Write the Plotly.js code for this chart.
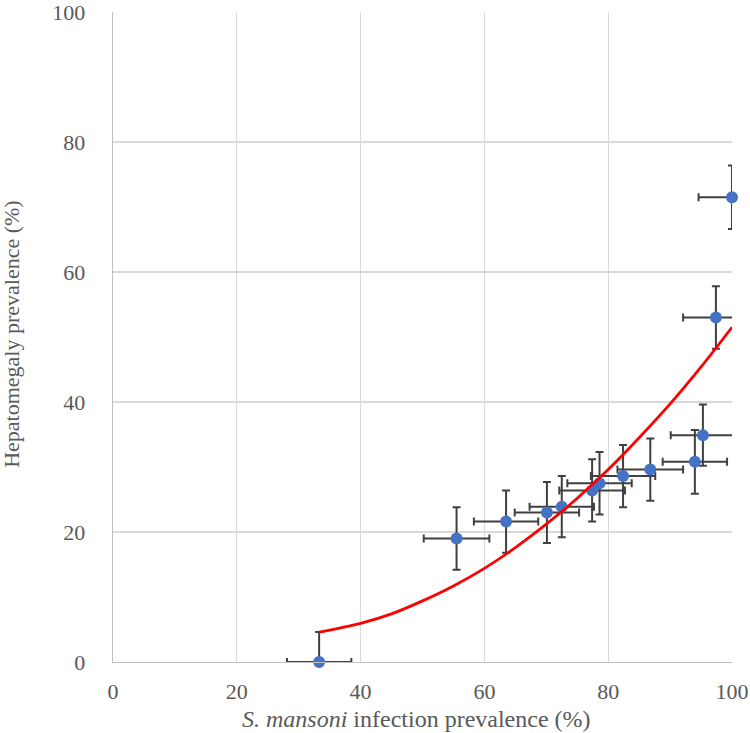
<!DOCTYPE html>
<html>
<head>
<meta charset="utf-8">
<script src="https://cdn.plot.ly/plotly-3.0.1.min.js"></script>
<style>html,body{margin:0;padding:0;background:#fff;}#chart{width:750px;height:733px;}</style>
</head>
<body>
<div id="chart"></div>
<script>
// S. mansoni infection prevalence (%) per community
const infectionPrev = [33.3, 55.5, 63.5, 70.1, 72.5, 77.4, 78.6, 82.4, 86.8, 94.0, 95.3, 97.4, 100.0];
// Hepatomegaly prevalence (%)
const hepatoPrev    = [0.0, 19.0, 21.6, 23.0, 23.9, 26.4, 27.5, 28.6, 29.6, 30.8, 34.9, 53.0, 71.5];
// 95% CI half-widths
const infectionErr  = [5.2, 5.3, 5.2, 5.2, 5.2, 5.3, 5.2, 5.2, 5.3, 5.2, 5.2, 5.3, 5.4];
const hepatoErr     = [4.6, 4.8, 4.8, 4.7, 4.7, 4.8, 4.8, 4.8, 4.8, 4.9, 4.7, 4.8, 4.9];
// Trendline (polynomial)
const trendX = [33.3, 40, 45, 50, 55, 60, 65, 70, 75, 80, 85, 90, 95, 100];
const trendY = [4.6, 5.95, 7.4, 9.4, 11.7, 14.4, 17.6, 21.2, 25.2, 29.6, 34.5, 39.7, 45.4, 51.5];
const tickVals = [0, 20, 40, 60, 80, 100];
const tickText = ['0', '20', '40', '60', '80', '100'];
const xTitle = '<i>S. mansoni</i> infection prevalence (%)';
const yTitle = 'Hepatomegaly prevalence (%)';

const errStyle = {type: 'data', symmetric: true, color: '#404040', thickness: 2, width: 4};

const data = [
  {
    x: infectionPrev, y: hepatoPrev, type: 'scatter', mode: 'markers',
    marker: {size: 12, color: 'rgba(0,0,0,0)'},
    error_x: Object.assign({array: infectionErr}, errStyle),
    error_y: Object.assign({array: hepatoErr}, errStyle),
    cliponaxis: true, hoverinfo: 'skip', showlegend: false
  },
  {
    x: infectionPrev, y: hepatoPrev, type: 'scatter', mode: 'markers',
    marker: {size: 12, color: '#4472C4'},
    cliponaxis: false, showlegend: false
  },
  {
    x: trendX, y: trendY, type: 'scatter', mode: 'lines',
    line: {color: '#FF0000', width: 2.8, shape: 'spline'},
    showlegend: false
  }
];

const fam = 'Liberation Serif, Times New Roman, serif';
const tickFont = {family: fam, size: 22, color: '#595959'};

const layout = {
  width: 750, height: 733,
  margin: {l: 113, r: 18, t: 12, b: 71},
  paper_bgcolor: '#ffffff', plot_bgcolor: '#ffffff',
  showlegend: false,
  font: {family: fam},
  xaxis: {
    range: [0, 100], tickvals: tickVals, ticktext: tickText,
    showgrid: true, gridcolor: '#d9d9d9', gridwidth: 1.3,
    zeroline: false, showline: true, linecolor: '#bfbfbf', linewidth: 1.3,
    ticks: '', ticklabelstandoff: 9, ticklabeloverflow: 'allow',
    tickfont: tickFont, automargin: false
  },
  yaxis: {
    range: [0, 100], tickvals: tickVals, ticktext: tickText,
    showgrid: true, gridcolor: '#d9d9d9', gridwidth: 1.3,
    zeroline: false, showline: true, linecolor: '#bfbfbf', linewidth: 1.3,
    ticks: '', ticklabelstandoff: 22, ticklabeloverflow: 'allow',
    tickfont: tickFont, automargin: false
  },
  annotations: [
    {text: xTitle, xref: 'paper', yref: 'paper', x: 0.491, y: -0.111,
     xanchor: 'center', yanchor: 'bottom', showarrow: false,
     font: {family: fam, size: 24, color: '#595959'}},
    {text: yTitle, xref: 'paper', yref: 'paper', x: -0.163, y: 0.505,
     xanchor: 'center', yanchor: 'middle', showarrow: false, textangle: -90,
     font: {family: fam, size: 22, color: '#595959'}}
  ]
};

Plotly.newPlot('chart', data, layout, {displayModeBar: false, staticPlot: true});
</script>
</body>
</html>
